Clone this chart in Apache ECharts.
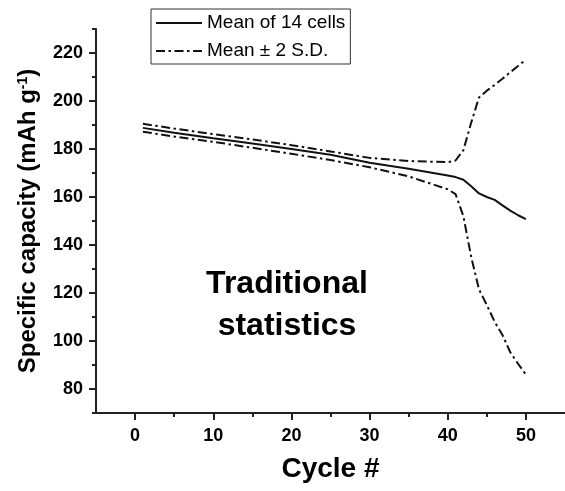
<!DOCTYPE html>
<html>
<head>
<meta charset="utf-8">
<script src="https://cdn.jsdelivr.net/npm/echarts@6/dist/echarts.min.js"></script>
<style>html,body{margin:0;padding:0;background:#fff}#c{width:565px;height:491px}</style>
</head>
<body>
<div id="c"></div>
<script>
// Data
const cycles = [1, 5, 10, 15, 20, 25, 30, 35, 40, 41, 42, 43, 44, 45, 46, 47, 48, 49, 50];
const meanValues = [188.8, 186.8, 184.5, 182.3, 180.0, 177.6, 174.3, 171.8, 169.0, 168.3, 167.2, 164.5, 161.5, 160.0, 158.8, 156.5, 154.3, 152.4, 150.8];
const upperValues = [190.5, 188.5, 186.2, 184.0, 181.6, 179.0, 176.3, 175.0, 174.5, 175.2, 179.5, 191.0, 201.5, 204.3, 206.7, 209.3, 212.0, 214.6, 217.3];
const lowerValues = [187.2, 185.2, 183.0, 180.5, 178.0, 175.4, 172.4, 168.6, 163.2, 161.2, 152.0, 135.0, 121.5, 115.0, 108.0, 102.5, 95.3, 90.5, 86.0];

const xMajorTicks = [0, 10, 20, 30, 40, 50];
const xMinorTicks = [5, 15, 25, 35, 45];
const yMajorTicks = [80, 100, 120, 140, 160, 180, 200, 220];
const yMinorTicks = [70, 90, 110, 130, 150, 170, 190, 210, 230];

const seriesNames = ['Mean of 14 cells', 'Mean \u00b1 2 S.D.'];
const xTitle = 'Cycle #';
const annotation = 'Traditional\nstatistics';

const FONT = '"Liberation Sans", Arial, sans-serif';
const pairs = (vals) => cycles.map((c, i) => [c, vals[i]]);
const dashDot = [9, 3.5, 2.5, 3.5];

const chart = echarts.init(document.getElementById('c'), null, {renderer: 'canvas'});
const xRange = {min: -5, max: 55};
const yRange = {min: 70, max: 230};

chart.setOption({
  animation: false,
  backgroundColor: '#fff',
  grid: {left: 96, right: -12, top: 29, bottom: 78, containLabel: false},
  legend: {
    orient: 'vertical',
    left: 151, top: 9,
    data: seriesNames,
    itemWidth: 46, itemHeight: 14, itemGap: 8,
    padding: [4, 5, 3, 4],
    borderColor: '#333', borderWidth: 1,
    itemStyle: {opacity: 0},
    lineStyle: {opacity: 1},
    textStyle: {fontFamily: FONT, fontSize: 19, color: '#000', lineHeight: 20}
  },
  xAxis: [{
    type: 'value', ...xRange,
    name: xTitle, nameLocation: 'middle', nameGap: 42,
    nameTextStyle: {fontFamily: FONT, fontSize: 28, fontWeight: 'bold', color: '#000'},
    axisLine: {show: true, onZero: false, lineStyle: {color: '#222', width: 2}},
    axisTick: {show: true, customValues: xMajorTicks, length: 7, lineStyle: {color: '#222', width: 2}},
    axisLabel: {customValues: xMajorTicks, margin: 14, fontFamily: FONT, fontSize: 18, fontWeight: 'bold', color: '#000'},
    splitLine: {show: false}
  }, {
    type: 'value', ...xRange, position: 'bottom',
    axisLine: {show: false, onZero: false},
    axisTick: {show: true, customValues: xMinorTicks, length: 4, lineStyle: {color: '#222', width: 2}},
    axisLabel: {show: false},
    splitLine: {show: false}
  }],
  yAxis: [{
    type: 'value', ...yRange,
    name: 'Specific capacity (mAh g{sup|-1})', nameLocation: 'middle', nameGap: 56,
    nameTextStyle: {fontFamily: FONT, fontSize: 24, fontWeight: 'bold', color: '#000',
      rich: {sup: {fontFamily: FONT, fontSize: 14, fontWeight: 'bold', color: '#000', verticalAlign: 'top', padding: [0, 0, 8, 0]}}},
    axisLine: {show: true, onZero: false, lineStyle: {color: '#222', width: 2}},
    axisTick: {show: true, customValues: yMajorTicks, length: 7, lineStyle: {color: '#222', width: 2}},
    axisLabel: {customValues: yMajorTicks, margin: 13, fontFamily: FONT, fontSize: 18, fontWeight: 'bold', color: '#000'},
    splitLine: {show: false}
  }, {
    type: 'value', ...yRange, position: 'left',
    axisLine: {show: false, onZero: false},
    axisTick: {show: true, customValues: yMinorTicks, length: 4, lineStyle: {color: '#222', width: 2}},
    axisLabel: {show: false},
    splitLine: {show: false}
  }],
  graphic: [{
    type: 'text',
    position: [287, 263],
    style: {text: annotation, x: 0, y: 0, fill: '#000', font: 'bold 32px ' + FONT, textAlign: 'center', lineHeight: 42}
  }],
  series: [{
    name: seriesNames[0], type: 'line', xAxisIndex: 0, yAxisIndex: 0,
    data: pairs(meanValues), symbol: 'none', smooth: false,
    lineStyle: {color: '#111', width: 2, type: 'solid'}, itemStyle: {color: '#111'}
  }, {
    name: seriesNames[1], type: 'line', xAxisIndex: 0, yAxisIndex: 0,
    data: pairs(upperValues), symbol: 'none',
    lineStyle: {color: '#111', width: 2, type: dashDot}, itemStyle: {color: '#111'}
  }, {
    name: seriesNames[1], type: 'line', xAxisIndex: 0, yAxisIndex: 0,
    data: pairs(lowerValues), symbol: 'none',
    lineStyle: {color: '#111', width: 2, type: dashDot}, itemStyle: {color: '#111'}
  }]
});
</script>
</body>
</html>
